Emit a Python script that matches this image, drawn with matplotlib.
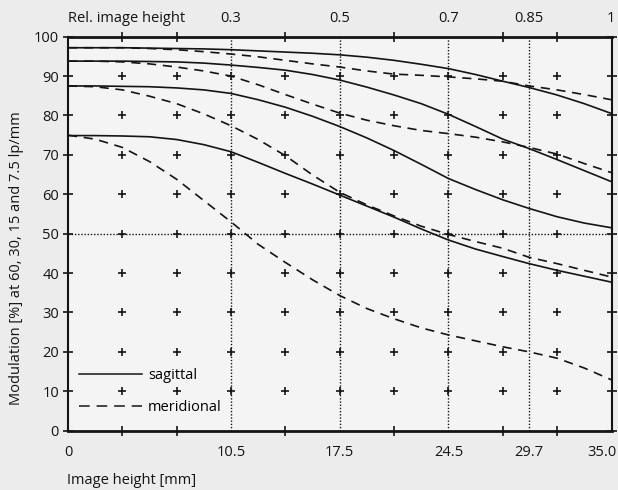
import numpy as np
import matplotlib
matplotlib.use("Agg")
import matplotlib.pyplot as plt
import matplotlib.transforms as mtransforms
from matplotlib.ticker import FixedLocator, NullFormatter

plt.rcParams["font.family"] = ["Open Sans", "DejaVu Sans"]

# ------------------------------------------------------------
# data (image height in mm, modulation in %)
# ------------------------------------------------------------
img_height = [0, 1.75, 3.5, 5.25, 7, 8.75, 10.5, 12.25, 14, 15.75, 17.5,
              19.25, 21, 22.75, 24.5, 26.25, 28, 29.7, 31.5, 33.25, 35]

sag_7_5 = [97.2, 97.2, 97.2, 97.1, 97.0, 96.9, 96.7, 96.4, 96.1, 95.8, 95.4,
           94.8, 94.0, 93.0, 91.9, 90.4, 88.7, 87.1, 85.2, 83.0, 80.5]
mer_7_5 = [97.2, 97.2, 97.2, 97.0, 96.7, 96.2, 95.6, 94.9, 94.0, 93.1, 92.3,
           91.3, 90.5, 90.2, 89.8, 89.3, 88.7, 87.5, 86.5, 85.3, 84.0]

sag_15 = [93.8, 93.8, 93.8, 93.7, 93.6, 93.3, 92.8, 92.2, 91.5, 90.4, 89.0,
          87.2, 85.2, 83.0, 80.3, 77.2, 74.0, 71.6, 68.8, 66.0, 63.2]
mer_15 = [93.8, 93.8, 93.6, 93.1, 92.3, 91.3, 90.0, 87.8, 85.3, 82.9, 80.6,
          78.8, 77.4, 76.2, 75.4, 74.5, 73.3, 71.9, 70.2, 67.8, 65.5]

sag_30 = [87.5, 87.5, 87.4, 87.3, 87.0, 86.5, 85.6, 84.0, 82.1, 79.8, 77.2,
          74.3, 71.1, 67.6, 64.0, 61.2, 58.6, 56.4, 54.3, 52.7, 51.5]
mer_30 = [87.5, 87.3, 86.5, 84.9, 83.0, 80.4, 77.4, 73.9, 69.8, 64.9, 60.5,
          57.3, 54.5, 51.9, 49.8, 48.0, 46.3, 44.0, 42.4, 40.7, 39.0]

sag_60 = [74.9, 74.9, 74.8, 74.6, 73.9, 72.6, 70.8, 68.1, 65.3, 62.6, 59.8,
          57.0, 54.2, 51.2, 48.4, 46.1, 44.2, 42.4, 40.7, 39.2, 37.7]
mer_60 = [75.0, 74.0, 71.9, 68.3, 63.8, 58.4, 53.0, 47.3, 42.7, 38.3, 34.3,
          31.0, 28.4, 26.1, 24.3, 22.8, 21.3, 20.0, 18.4, 15.9, 12.9]

bottom_ticks = [0, 10.5, 17.5, 24.5, 29.7, 35.0]
bottom_labels = ["0", "10.5", "17.5", "24.5", "29.7", "35.0"]
rel_labels = ["0.3", "0.5", "0.7", "0.85", "1"]
grid_x = [3.5, 7, 10.5, 14, 17.5, 21, 24.5, 28, 31.5]
grid_y = [10, 20, 30, 40, 50, 60, 70, 80, 90]

INK = "#141414"
DOTS = (0, (1, 1.3))
DASH = (0, (5.5, 4.0))

fig = plt.figure(figsize=(6.18, 4.90), dpi=100, facecolor="#ececec")
ax = fig.add_axes([68.0 / 618, 1 - 430.7 / 490,
                   (611.5 - 68.0) / 618, (430.7 - 36.7) / 490])
ax.set_facecolor("#f4f4f4")
ax.set_xlim(0, 35)
ax.set_ylim(0, 100)

# dotted reference lines
for xv in bottom_ticks[1:5]:
    ax.axvline(xv, color=INK, lw=1.0, ls=DOTS, zorder=1)
ax.axhline(50, color=INK, lw=1.0, ls=DOTS, zorder=1)

# cross marks of the grid
gx, gy = np.meshgrid(grid_x, grid_y)
ax.plot(gx.ravel(), gy.ravel(), ls="none", marker="+", ms=6, mew=1.2,
        color=INK, zorder=2)

# MTF curves
for s, m in [(sag_7_5, mer_7_5), (sag_15, mer_15),
             (sag_30, mer_30), (sag_60, mer_60)]:
    ax.plot(img_height, s, color=INK, lw=1.2, zorder=3)
    ax.plot(img_height, m, color=INK, lw=1.2, ls=DASH, zorder=3)

# legend
h_s, = ax.plot([], [], color=INK, lw=1.1)
h_m, = ax.plot([], [], color=INK, lw=1.1, ls=(0, (7, 4.5)))
ax.legend([h_s, h_m], ["sagittal", "meridional"], loc="center left",
          bbox_to_anchor=(0.02, 0.10), frameon=False, fontsize=10.5,
          handlelength=4.3, handletextpad=0.45, labelspacing=1.15,
          borderpad=0, borderaxespad=0)

# spines
for side, w in [("left", 1.5), ("right", 1.5), ("top", 2.0), ("bottom", 2.0)]:
    ax.spines[side].set_linewidth(w)
    ax.spines[side].set_color(INK)

# x ticks: labels at special heights, cross ticks every 3.5 mm
ax.xaxis.set_major_locator(FixedLocator(bottom_ticks))
ax.set_xticklabels(bottom_labels)
ax.xaxis.set_minor_locator(FixedLocator([3.5 * i for i in range(11)]))
ax.xaxis.set_minor_formatter(NullFormatter())
ax.tick_params(axis="x", which="major", length=0, pad=10, labelsize=10.5,
               colors=INK)
ax.tick_params(axis="x", which="minor", direction="inout", length=7,
               width=1.2, top=True, bottom=True, colors=INK)

# keep the last label inside the figure edge
last = ax.get_xticklabels()[-1]
last.set_ha("right")
last.set_transform(last.get_transform() +
                   mtransforms.ScaledTranslation(5 / 100, 0, fig.dpi_scale_trans))

ax.set_yticks(range(0, 101, 10))
ax.tick_params(axis="y", direction="inout", length=7, width=1.2,
               left=True, right=True, pad=3, labelsize=10.5, colors=INK)

# relative image height on top
sec = ax.secondary_xaxis("top")
sec.set_xticks(bottom_ticks[1:], labels=rel_labels)
sec.tick_params(length=0, pad=8, labelsize=10.5, colors=INK)
sec.spines["top"].set_visible(False)
top_last = sec.get_xticklabels()[-1]
top_last.set_ha("right")
top_last.set_transform(top_last.get_transform() +
                       mtransforms.ScaledTranslation(4 / 100, 0, fig.dpi_scale_trans))

fig.text(67.7 / 618, 1 - 22 / 490, "Rel. image height", ha="left",
         va="baseline", fontsize=10.5, color=INK)
fig.text(67.0 / 618, 1 - 484 / 490, "Image height [mm]", ha="left",
         va="baseline", fontsize=10.5, color=INK)
fig.text(17 / 618, 1 - 258 / 490,
         "Modulation [%] at 60, 30, 15 and 7.5 lp/mm", rotation=90,
         ha="center", va="center", fontsize=10.5, color=INK)

fig.savefig("out.png", dpi=100, facecolor=fig.get_facecolor())
